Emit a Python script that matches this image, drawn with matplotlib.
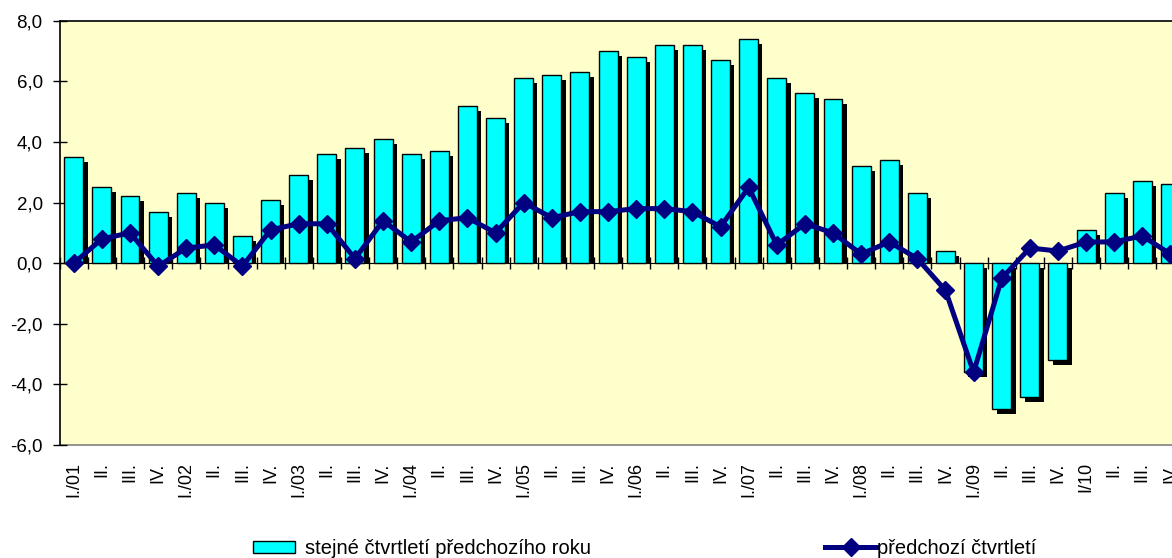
import numpy as np
import matplotlib
matplotlib.use("Agg")
import matplotlib.pyplot as plt
from matplotlib.transforms import offset_copy

plt.rcParams['font.family'] = ['Liberation Sans', 'DejaVu Sans']

# quarter labels 2001 - 2010
quarters = ["I./01", "II.", "III.", "IV.", "I./02", "II.", "III.", "IV.",
            "I./03", "II.", "III.", "IV.", "I./04", "II.", "III.", "IV.",
            "I./05", "II.", "III.", "IV.", "I./06", "II.", "III.", "IV.",
            "I./07", "II.", "III.", "IV.", "I./08", "II.", "III.", "IV.",
            "I./09", "II.", "III.", "IV.", "I/10", "II.", "III.", "IV."]

# growth vs same quarter of previous year (bars)
same_q_prev_year = [3.5, 2.5, 2.2, 1.7, 2.3, 2.0, 0.9, 2.1, 2.9, 3.6, 3.8, 4.1,
                    3.6, 3.7, 5.2, 4.8, 6.1, 6.2, 6.3, 7.0, 6.8, 7.2, 7.2, 6.7,
                    7.4, 6.1, 5.6, 5.4, 3.2, 3.4, 2.3, 0.4, -3.6, -4.8, -4.4, -3.2,
                    1.1, 2.3, 2.7, 2.6]

# growth vs previous quarter (line)
prev_quarter = [0.0, 0.8, 1.0, -0.1, 0.5, 0.6, -0.1, 1.1, 1.3, 1.3, 0.15, 1.4,
                0.7, 1.4, 1.5, 1.0, 2.0, 1.5, 1.7, 1.7, 1.8, 1.8, 1.7, 1.2,
                2.5, 0.6, 1.3, 1.0, 0.3, 0.7, 0.15, -0.9, -3.6, -0.5, 0.5, 0.4,
                0.7, 0.7, 0.9, 0.3]

label_bars = "stejné čtvrtletí předchozího roku"
label_line = "předchozí čtvrtletí"

W, H = 1172, 558
fig = plt.figure(figsize=(W / 100, H / 100), dpi=100)
# plot area runs past the right edge, as in the original
ax = fig.add_axes([59.7 / W, 1 - 445 / H, 1124.8 / W, (445 - 20.7) / H])
ax.set_facecolor("#FFFFCC")

x = np.arange(len(quarters))
bw = 0.675
ax.set_xlim(-0.5, len(quarters) - 0.5)
ax.set_ylim(-6, 8)

# drop shadow: 4 px right, 5 px down, cut at the zero line for positive bars
vals = np.array(same_q_prev_year)
ppu = ax.transData.transform((0, 1))[1] - ax.transData.transform((0, 0))[1]
dy = 5.0 / ppu
sh_bottom = np.where(vals > 0, 0.0, -dy)
sh_height = np.where(vals > 0, vals - dy, vals)
shadow_tr = offset_copy(ax.transData, fig=fig, x=4.3, y=0, units='dots')
ax.bar(x, sh_height, bottom=sh_bottom, width=bw, color="black", linewidth=0,
       transform=shadow_tr, zorder=2.8)
bars = ax.bar(x, vals, width=bw, color="#00FFFF",
              edgecolor="black", linewidth=1.0, zorder=3)
line, = ax.plot(x, prev_quarter, color="#000080", lw=3.6, marker="D",
                ms=9, mec="#000080", zorder=4)

yt = np.arange(-6, 9, 2)
ax.set_yticks(yt, [f"{v:.1f}".replace(".", ",") for v in yt])
ax.tick_params(axis='y', direction='inout', length=9.5, width=1, pad=7.5,
               labelsize=13.5, colors='black')

# category axis at zero with tick marks between quarters
ax.spines['bottom'].set_position(('data', 0))
ax.set_xticks(np.arange(-0.5, len(quarters), 1))
ax.tick_params(axis='x', direction='inout', length=9, width=1,
               labelbottom=False)
ax.spines['right'].set_visible(False)
ax.spines['top'].set_linewidth(1.2)
ax.spines['left'].set_linewidth(1.2)

# quarter labels at the bottom of the plot area
sec = ax.secondary_xaxis('bottom')
sec.set_xticks(x, quarters)
sec.tick_params(length=0, pad=12.5, labelsize=13, rotation=90)
sec.spines['bottom'].set_color("#808080")
sec.spines['bottom'].set_linewidth(1.2)

fig.legend([bars.patches[0]], [label_bars], loc='center left',
           bbox_to_anchor=(253 / W, 1 - 548.5 / H), frameon=False,
           borderpad=0, borderaxespad=0, handlelength=2.1,
           handleheight=0.6, handletextpad=0.5, fontsize=14.5)
fig.legend([line], [label_line], loc='center left',
           bbox_to_anchor=(825 / W, 1 - 548.5 / H), frameon=False,
           borderpad=0, borderaxespad=0, handlelength=2.55,
           handletextpad=0.05, numpoints=1, fontsize=14.5)

fig.savefig("out.png", dpi=100, facecolor="white")
